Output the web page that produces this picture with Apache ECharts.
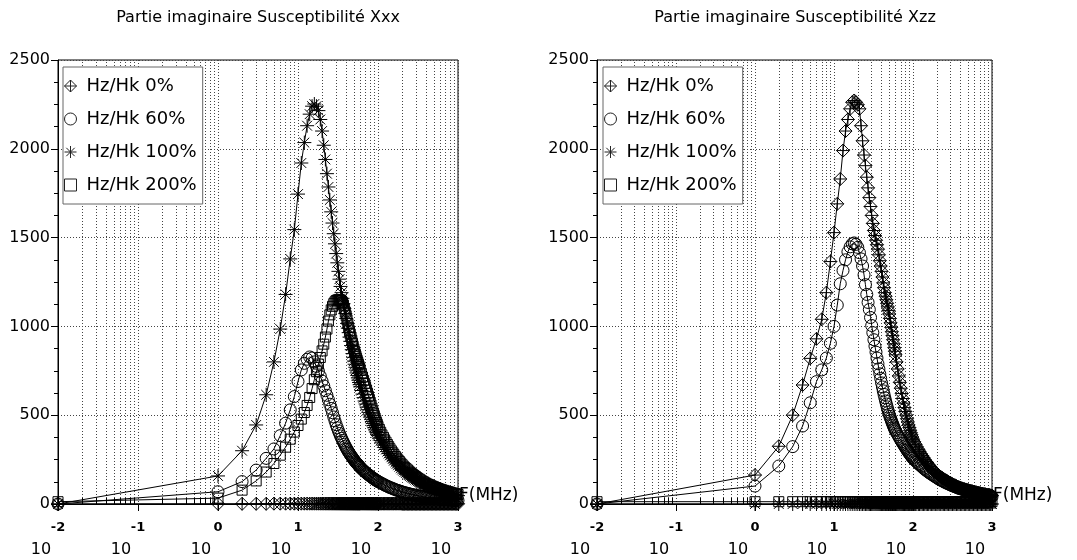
<!DOCTYPE html>
<html><head><meta charset="utf-8">
<script src="https://cdn.jsdelivr.net/npm/echarts@6/dist/echarts.min.js"></script>
<style>html,body{margin:0;padding:0;background:#fff}#c{width:1077px;height:560px}</style>
</head><body><div id="c"></div>
<script>
// Frequencies (MHz)
const FREQ = [0.01,
 1,2,3,4,5,6,7,8,9,10,
 11,12,13,14,15,16,17,18,19,20,
 21,22,23,24,25,26,27,28,29,30,
 31,32,33,34,35,36,37,38,39,40,
 41,42,43,44,45,46,47,48,49,50,
 51,52,53,54,55,56,57,58,59,60,
 62,64,66,68,70,72,74,76,78,80,
 82,84,86,88,90,92,94,96,98,
 100,104,108,112,117,121,126,131,136,141,
 147,153,158,165,171,178,185,192,200,207,
 215,224,233,242,251,261,271,282,293,304,
 316,329,341,355,369,383,398,414,430,447,
 464,482,501,521,541,562,584,607,631,656,
 681,708,736,764,794,825,858,891,926,962,
 1000];

// Left chart: Xxx
const XX_0 = [0,
 1,1,1,1,2,2,2,2,2,2,
 2,2,2,2,2,2,2,2,2,2,
 2,2,2,2,2,2,2,2,2,2,
 2,2,2,2,2,2,2,2,2,2,
 2,2,2,2,2,2,2,2,2,2,
 2,2,2,2,2,2,2,2,2,2,
 2,2,2,2,2,2,2,2,2,2,
 2,2,2,2,2,2,2,2,2,
 2,2,2,2,2,2,2,2,2,2,
 2,2,2,2,2,2,2,2,1,1,
 1,1,1,1,1,1,1,1,1,1,
 1,1,1,1,1,1,1,1,1,1,
 1,1,1,1,1,1,1,1,1,1,
 1,1,1,1,1,1,1,1,1,1,
 1];
const XX_60 = [0,
 69,126,191,257,310,385,455,530,605,690,
 755,792,815,828,822,800,775,748,720,692,
 665,638,612,587,562,538,514,490,468,447,
 429,412,397,383,370,358,347,336,326,316,
 308,300,292,285,278,272,266,260,254,249,
 244,239,234,230,226,222,218,214,210,207,
 200,194,188,183,178,173,169,165,161,157,
 153,150,147,143,140,137,135,132,129,
 127,123,119,115,111,107,103,100,96,93,
 90,87,84,81,78,76,73,71,68,66,
 64,62,60,58,56,54,53,51,49,48,
 46,45,43,42,41,39,38,37,36,35,
 34,33,32,32,31,30,29,28,28,27,
 26,25,25,24,23,23,22,22,21,20,
 20];
const XX_100 = [0,
 158,300,445,615,800,985,1180,1380,1545,1745,
 1920,2035,2130,2195,2240,2252,2240,2215,2165,2100,
 2020,1940,1860,1785,1712,1645,1582,1522,1465,1410,
 1358,1310,1266,1225,1190,1158,1128,1100,1072,1045,
 1017,990,965,940,916,892,869,847,826,805,
 787,770,754,738,724,710,697,684,672,660,
 639,619,599,580,563,546,531,516,502,489,
 477,464,453,442,431,421,411,402,393,
 385,371,357,344,331,318,307,295,284,274,
 263,254,244,235,226,218,210,202,194,188,
 181,175,169,163,158,152,147,142,137,133,
 128,124,119,115,111,108,104,101,97,94,
 91,88,85,83,80,77,75,72,70,68,
 65,63,61,59,57,56,54,52,50,49,
 47];
const XX_200 = [13,
 33,78,130,180,228,275,320,365,405,442,
 478,515,555,600,650,700,745,788,825,862,
 900,940,985,1030,1065,1093,1113,1128,1138,1145,
 1148,1150,1150,1148,1143,1135,1120,1100,1081,1060,
 1037,1015,995,975,957,940,922,905,888,872,
 858,845,832,820,808,797,786,775,765,755,
 735,715,696,678,660,642,624,606,589,572,
 556,540,525,511,497,484,471,459,448,
 436,420,404,389,375,361,348,335,323,311,
 299,288,278,267,258,248,239,230,221,213,
 206,199,192,185,178,172,166,160,155,149,
 144,139,134,129,125,120,116,112,109,106,
 102,99,96,93,90,87,84,82,79,77,
 74,72,70,68,66,63,61,60,58,56,
 54];

// Right chart: Xzz
const ZZ_0 = [0,
 163,325,500,670,820,930,1040,1190,1365,1528,
 1690,1830,1990,2100,2165,2225,2262,2272,2262,2248,
 2225,2130,2045,1965,1905,1840,1780,1725,1675,1625,
 1580,1540,1512,1485,1460,1435,1403,1370,1340,1310,
 1278,1245,1218,1190,1170,1150,1130,1110,1090,1070,
 1045,1020,995,970,948,925,902,880,860,840,
 800,760,721,685,652,622,594,568,543,521,
 500,480,462,445,430,415,401,389,377,
 365,350,336,322,308,296,283,272,261,250,
 239,230,220,211,202,194,186,178,171,164,
 159,153,148,143,138,133,129,124,120,116,
 112,108,105,101,98,94,91,89,86,84,
 82,80,78,76,74,72,70,68,66,64,
 63,61,59,58,56,55,53,52,51,49,
 48];
const ZZ_60 = [0,
 101,214,323,439,570,689,755,822,905,1000,
 1120,1240,1315,1375,1420,1448,1465,1470,1462,1445,
 1415,1380,1340,1290,1235,1180,1135,1095,1050,1005,
 965,925,889,855,822,790,761,733,707,682,
 659,637,617,598,580,563,547,532,518,505,
 493,482,472,462,453,444,435,427,419,412,
 401,391,380,370,360,351,342,334,326,318,
 310,303,296,290,284,278,272,267,261,
 257,249,242,235,227,221,214,208,201,195,
 189,184,178,173,168,163,158,153,148,144,
 139,135,131,127,123,120,116,113,109,106,
 103,100,97,94,91,88,86,84,81,79,
 76,74,72,70,68,66,64,62,60,58,
 57,55,53,52,50,49,47,46,45,43,
 42];
const ZZ_100 = [0,
 0,0,0,0,0,0,0,0,0,0,
 0,0,0,0,0,0,0,0,0,0,
 0,0,0,0,0,0,0,0,0,0,
 0,0,0,0,0,0,0,0,0,0,
 0,0,0,0,0,0,0,0,0,0,
 0,0,0,0,0,0,0,0,0,0,
 0,0,0,0,0,0,0,0,0,0,
 0,0,0,0,0,0,0,0,0,
 0,0,0,0,0,0,0,0,0,0,
 0,0,0,0,0,0,0,0,0,0,
 0,0,0,0,0,0,0,0,0,0,
 0,0,0,0,0,0,0,0,0,0,
 0,0,0,0,0,0,0,0,0,0,
 0,0,0,0,0,0,0,0,0,0,
 0];
const ZZ_200 = [13,
 13,13,13,13,13,13,13,13,13,13,
 13,13,13,13,13,13,13,13,13,13,
 13,13,13,13,13,13,13,13,13,13,
 13,13,13,13,13,13,13,13,13,13,
 13,13,13,13,13,13,13,13,13,13,
 13,13,13,13,13,13,13,13,13,13,
 13,13,13,13,13,13,13,13,13,13,
 13,13,13,13,13,13,13,13,13,
 13,13,13,13,13,13,13,13,13,13,
 13,13,13,13,13,13,13,13,13,13,
 13,13,13,13,13,13,13,13,13,13,
 13,13,13,13,13,13,13,13,13,13,
 13,13,13,13,13,13,13,13,13,13,
 13,13,13,13,13,13,13,13,13,13,
 13];

const NAMES = ['Hz/Hk 0%', 'Hz/Hk 60%', 'Hz/Hk 100%', 'Hz/Hk 200%'];
const TITLES = ['Partie imaginaire Susceptibilité Xxx', 'Partie imaginaire Susceptibilité Xzz'];
const X_NAME = 'F(MHz)';

const SYMBOLS = [
  'path://M10,0L20,10L10,20L0,10ZM10,0L10,20M0,10L20,10',
  'circle',
  'path://M10,0L10,20M0,10L20,10M3,3L17,17M3,17L17,3',
  'path://M0,0L20,0L20,20L0,20Z'
];
const SIZES = [13, 12, 14, 10];

const FONT = 'DejaVu Sans';
const GRID_COLOR = '#444';

// minor log positions 2..9 x 10^e
const MINOR = [];
for (let e = -2; e <= 2; e++) for (let k = 2; k <= 9; k++) MINOR.push(Number((k * Math.pow(10, e)).toPrecision(3)));

const grids = [
  {left: 58, top: 60, width: 400, height: 444},
  {left: 597, top: 60, width: 395, height: 444}
];

function xAxis(g) {
  return {
    type: 'log', logBase: 10, gridIndex: g, min: 0.01, max: 1000, splitNumber: 5,
    name: X_NAME, nameLocation: 'end', nameGap: 1,
    nameTextStyle: {fontFamily: FONT, fontSize: 17, color: '#000', align: 'left', verticalAlign: 'bottom'},
    axisLine: {show: true, lineStyle: {color: '#000', width: 1}},
    axisTick: {show: true, length: 7, lineStyle: {color: '#000'}},
    axisLabel: {
      margin: 16, color: '#000',
      formatter: function (v) {
        const e = Math.round(Math.log10(v));
        return '{e|' + e + '}\n{b|10}{s|}';
      },
      rich: {
        e: {fontFamily: FONT, fontSize: 13, fontWeight: 'bold', lineHeight: 16, color: '#000'},
        b: {fontFamily: FONT, fontSize: 16, lineHeight: 28, color: '#000'},
        s: {width: 34, lineHeight: 28}
      }
    },
    splitLine: {show: true, lineStyle: {type: [1, 2], color: GRID_COLOR, width: 1}}
  };
}
function yAxis(g) {
  return {
    type: 'value', gridIndex: g, min: 0, max: 2500, interval: 500,
    axisLine: {show: true, lineStyle: {color: '#000'}},
    axisTick: {show: true, length: 7, lineStyle: {color: '#000'}},
    minorTick: {show: true, splitNumber: 4, length: 4, lineStyle: {color: '#000'}},
    axisLabel: {margin: 8, fontFamily: FONT, fontSize: 16, color: '#000', formatter: v => String(v)},
    splitLine: {show: true, lineStyle: {type: [1, 2], color: GRID_COLOR, width: 1}}
  };
}

function mk(name, vals, idx, g) {
  return {
    type: 'line', name: name, xAxisIndex: g, yAxisIndex: g,
    data: FREQ.map((f, i) => [f, vals[i]]),
    symbol: SYMBOLS[idx], symbolSize: SIZES[idx], showSymbol: true,
    silent: true, animation: false,
    lineStyle: {color: '#000', width: 1},
    itemStyle: {color: 'transparent', borderColor: '#000', borderWidth: 1},
    emphasis: {disabled: true}
  };
}
function gridHelpers(g) {
  return [{
    type: 'line', xAxisIndex: g, yAxisIndex: g, data: [], silent: true, animation: false,
    markLine: {
      silent: true, symbol: 'none', animation: false, z: 1,
      label: {show: false},
      lineStyle: {type: [1, 2], color: GRID_COLOR, width: 1},
      emphasis: {disabled: true},
      data: MINOR.map(v => ({xAxis: v}))
    }
  }, {
    type: 'line', xAxisIndex: g, yAxisIndex: g, data: [], silent: true, animation: false,
    markLine: {
      silent: true, symbol: 'none', animation: false, z: 3,
      label: {show: false},
      lineStyle: {type: 'solid', color: '#000', width: 1},
      emphasis: {disabled: true},
      data: MINOR.map(v => [{coord: [v, 0]}, {coord: [v, 34]}])
    }
  }];
}
function legend(left) {
  return {
    orient: 'vertical', left: left, top: 67, padding: [9, 6, 9, 1],
    itemGap: 13, itemWidth: 22, itemHeight: 12,
    backgroundColor: '#fff', borderColor: '#666', borderWidth: 1,
    selectedMode: false,
    textStyle: {fontFamily: FONT, fontSize: 18, color: '#000', lineHeight: 20},
    itemStyle: {color: 'transparent', borderColor: '#222', borderWidth: 1},
    lineStyle: {opacity: 0},
    data: NAMES.map((n, i) => ({name: n, icon: SYMBOLS[i]}))
  };
}

const series = [].concat(
  gridHelpers(0), gridHelpers(1),
  [mk(NAMES[0], XX_0, 0, 0), mk(NAMES[1], XX_60, 1, 0), mk(NAMES[2], XX_100, 2, 0), mk(NAMES[3], XX_200, 3, 0)],
  [mk(NAMES[0], ZZ_0, 0, 1), mk(NAMES[1], ZZ_60, 1, 1), mk(NAMES[2], ZZ_100, 2, 1), mk(NAMES[3], ZZ_200, 3, 1)]
);

const chart = echarts.init(document.getElementById('c'), null, {renderer: 'canvas'});
chart.setOption({
  animation: false,
  backgroundColor: '#fff',
  title: [
    {text: TITLES[0], left: 258, top: 10, padding: 0, textAlign: 'center', textStyle: {fontFamily: FONT, fontSize: 16, fontWeight: 'normal', color: '#000'}},
    {text: TITLES[1], left: 795, top: 10, padding: 0, textAlign: 'center', textStyle: {fontFamily: FONT, fontSize: 16, fontWeight: 'normal', color: '#000'}}
  ],
  legend: [legend(63), legend(603)],
  grid: grids.map(r => Object.assign({show: true, borderColor: '#000', borderWidth: 1, backgroundColor: 'transparent'}, r)),
  xAxis: [xAxis(0), xAxis(1)],
  yAxis: [yAxis(0), yAxis(1)],
  series: series
});
</script></body></html>
